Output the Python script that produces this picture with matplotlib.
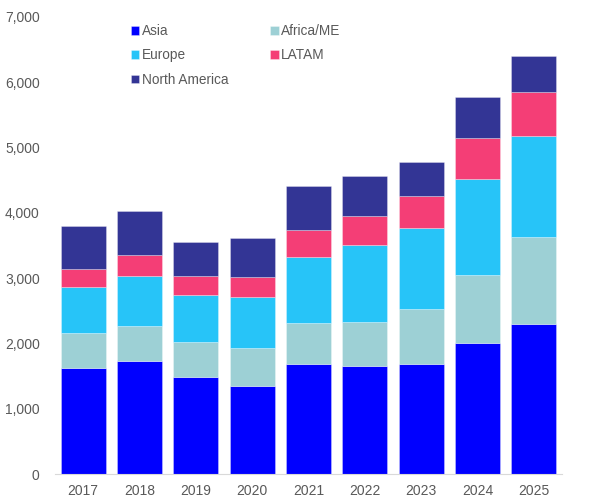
import matplotlib
matplotlib.use("Agg")
import matplotlib.pyplot as plt
import numpy as np

years = ["2017", "2018", "2019", "2020", "2021", "2022", "2023", "2024", "2025"]
asia = [1630, 1735, 1490, 1350, 1690, 1655, 1680, 2010, 2300]
africa_me = [530, 530, 527, 583, 624, 679, 852, 1042, 1333]
europe = [709, 766, 725, 776, 1015, 1170, 1231, 1460, 1542]
latam = [276, 321, 291, 306, 405, 449, 500, 638, 679]
north_america = [653, 674, 516, 598, 683, 608, 521, 628, 551]

series = [
    ("Asia", asia, "#0000FF"),
    ("Africa/ME", africa_me, "#9DD0D5"),
    ("Europe", europe, "#27C4F8"),
    ("LATAM", latam, "#F43E76"),
    ("North America", north_america, "#333595"),
]

plt.rcParams['font.family'] = ['Liberation Sans', 'DejaVu Sans']
fig = plt.figure(figsize=(5.91, 4.98), dpi=100)
ax = fig.add_axes([55/591, 24/498, (562-55)/591, (474-17)/498])

x = np.arange(len(years))
bottom = np.zeros(len(years))
handles = []
for name, vals, col in series:
    b = ax.bar(x, vals, width=0.8, bottom=bottom, color=col, label=name,
               edgecolor=(1, 1, 1, 0.35), linewidth=0.6)
    bottom += np.array(vals)
    handles.append(b)

ax.set_ylim(0, 7000)
ax.set_xlim(-0.5, len(years) - 0.5)
ax.set_xticks(x)
ax.set_xticklabels(years)
ax.set_yticks(range(0, 7001, 1000))
ax.set_yticklabels([f"{v:,}" for v in range(0, 7001, 1000)])
ax.tick_params(axis='both', length=0, labelsize=10, labelcolor='#595959')
ax.tick_params(axis='y', pad=11)
ax.tick_params(axis='x', pad=7)
for s in ['top', 'right', 'left']:
    ax.spines[s].set_visible(False)
ax.spines['bottom'].set_color('#D9D9D9')

order = [0, 2, 4, 1, 3]
leg = ax.legend([handles[i] for i in order], [series[i][0] for i in order],
                ncol=2, loc='upper left', bbox_to_anchor=(0.125, 1.011),
                frameon=False, fontsize=9.8, handlelength=0.6, handleheight=0.6,
                handletextpad=0.2, labelspacing=0.75, columnspacing=3.1)
for t in leg.get_texts():
    t.set_color('#595959')

fig.savefig("out.png", dpi=100)
